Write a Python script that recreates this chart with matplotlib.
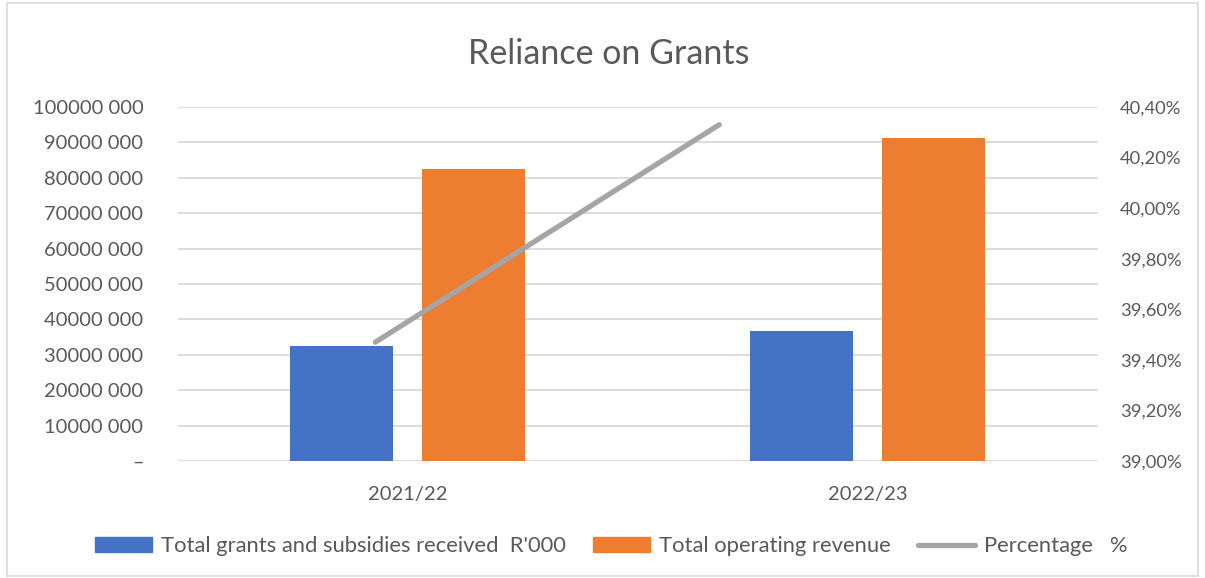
import matplotlib.pyplot as plt
import matplotlib.ticker as mticker
from matplotlib.patches import Rectangle, Patch
from matplotlib.lines import Line2D
import numpy as np

plt.rcParams['font.family'] = ['Lato', 'DejaVu Sans']

# data
years = ['2021/22', '2022/23']
grants = [32500000, 36700000]
revenue = [82500000, 91200000]
percentage = [39.47, 40.33]

blue = '#4472c4'
orange = '#ed7d31'
grey = '#a5a5a5'
txt = '#595959'

fig = plt.figure(figsize=(12.05, 5.78), dpi=100)
fig.patches.append(Rectangle((0.006, 0.004), 0.988, 0.99, transform=fig.transFigure,
                             fill=False, edgecolor='#d9d9d9', lw=1.2))

pos = [0.1477, 0.2024, 0.9108 - 0.1477, 0.8149 - 0.2024]
ax = fig.add_axes(pos)
x = np.arange(len(years))
w = 0.224
ax.bar(x - 0.1435, grants, w, color=blue, zorder=3)
ax.bar(x + 0.1435, revenue, w, color=orange, zorder=3)
ax.set_xlim(-0.5, 1.5)
ax.set_ylim(0, 100000000)
ax.yaxis.set_major_locator(mticker.MultipleLocator(10000000))
ax.yaxis.set_major_formatter(mticker.FuncFormatter(
    lambda v, p: '\u2013' if v == 0 else '%d 000' % (v // 1000)))
ax.set_xticks(x)
ax.set_xticklabels(years)
ax.grid(axis='y', color='#d9d9d9', lw=1.3, zorder=0)
for s in ax.spines.values():
    s.set_visible(False)
ax.tick_params(length=0, labelsize=14.5, colors=txt)
ax.tick_params(axis='y', pad=25)
ax.tick_params(axis='x', pad=18)

# line sits on its own secondary axes
ax2 = fig.add_axes(pos, frameon=False)
ax2.plot(range(len(percentage)), percentage, color=grey, lw=3.8,
         solid_capstyle='round', zorder=4)
ax2.set_xlim(-0.574, 2.100)
ax2.set_ylim(39.0, 40.4)
ax2.yaxis.set_major_locator(mticker.MultipleLocator(0.2))
ax2.yaxis.set_major_formatter(mticker.FuncFormatter(
    lambda v, p: ('%.2f%%' % v).replace('.', ',')))
ax2.yaxis.tick_right()
ax2.set_xticks([])
ax2.tick_params(length=0, labelsize=13.2, colors=txt, pad=16)

fig.text(0.505, 0.907, 'Reliance on Grants', ha='center', va='center',
         fontsize=24.5, color=txt)

handles = [Patch(color=blue), Patch(color=orange),
           Line2D([0], [0], color=grey, lw=3.8, solid_capstyle='round')]
labels = ["Total grants and subsidies received  R'000", 'Total operating revenue',
          'Percentage   %']
fig.legend(handles, labels, loc='center', bbox_to_anchor=(0.507, 0.055), ncol=3,
           frameon=False, fontsize=15.8, labelcolor=txt, handlelength=2.6,
           handleheight=0.65, columnspacing=1.25, handletextpad=0.4)

fig.savefig('out.png', dpi=100)
